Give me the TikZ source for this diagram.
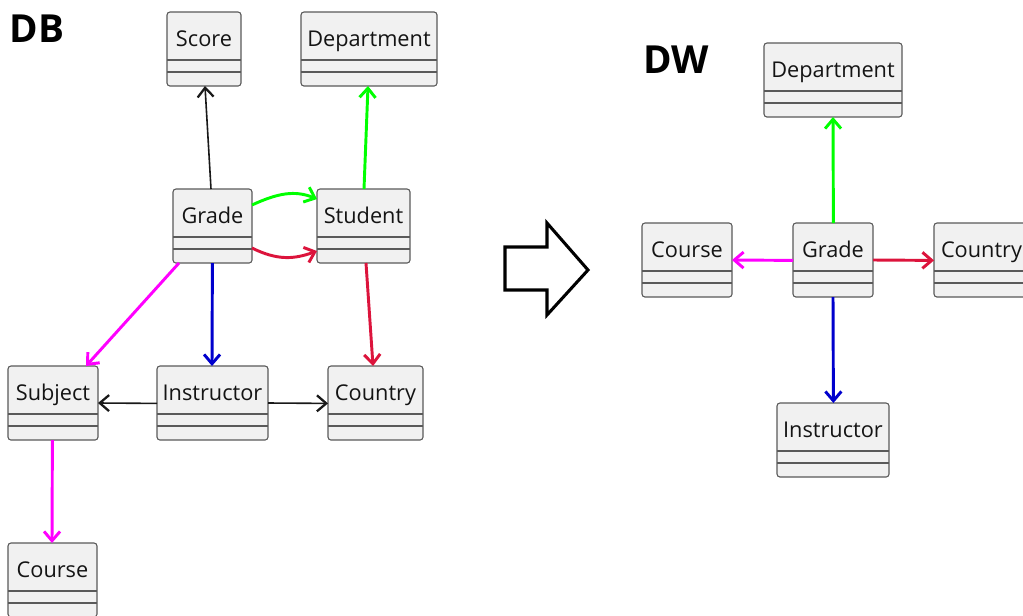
\documentclass[tikz,border=0pt]{standalone}
\usepackage{fontspec}
\setmainfont{Open Sans}
\usetikzlibrary{arrows.meta}
\definecolor{boxfill}{HTML}{F1F1F1}
\definecolor{boxline}{HTML}{5A5A5A}
\definecolor{cgreen}{HTML}{00FF00}
\definecolor{cred}{HTML}{DC143C}
\definecolor{cmag}{HTML}{FF00FF}
\definecolor{cblue}{HTML}{0000CD}
\tikzset{
  ubox/.style={draw=boxline, fill=boxfill, line width=0.8pt, rounded corners=2.2pt,
    minimum height=55.5pt, inner sep=0pt, outer sep=0pt},
  utext/.style={font=\fontsize{16.3}{19}\selectfont, inner sep=0pt, text=black!92, anchor=base},
  usep/.style={draw=boxline, line width=0.8pt},
  blk/.style={-{Straight Barb[length=7pt, width=12pt, line width=1.7pt]}, line width=1.2pt, draw=black!90},
  col/.style={-{Straight Barb[length=7pt, width=12pt]}, line width=2.2pt},
  ttl/.style={font=\bfseries\fontsize{29}{32}\selectfont, inner sep=0pt},
  bigarrow/.style={draw=black, line width=2.3pt, fill=white, line join=miter}
}
\newcommand\ubox[5]{%
  \node[ubox, minimum width=#4*0.75pt, anchor=north west] (#1) at (#2,#3) {};
  \node[utext] (#1-t) at ([yshift=-34*0.75pt]#1.north) {#5};
  \draw[usep] ([yshift=-48*0.75pt]#1.north west) -- ([yshift=-48*0.75pt]#1.north east);
  \draw[usep] ([yshift=-60*0.75pt]#1.north west) -- ([yshift=-60*0.75pt]#1.north east);
}
\begin{document}
\begin{tikzpicture}[x=0.75pt, y=-0.75pt]
\clip (0,0) rectangle (1023,615);
\fill[white] (0,0) rectangle (1023,615);
% titles
\node[ttl] (db) at (37,29) {DB};
\node[ttl] (dw) at (676,60) {DW};
% DB boxes
\ubox{score}{167}{12}{74}{Score}
\ubox{dept}{301}{12}{136}{Department}
\ubox{grade}{173}{189}{79}{Grade}
\ubox{student}{317}{189}{93}{Student}
\ubox{subject}{8}{366}{90}{Subject}
\ubox{instr}{157}{366}{111}{Instructor}
\ubox{country}{328}{366}{95}{Country}
\ubox{course}{8}{543}{89}{Course}
% DW boxes
\ubox{wdept}{764}{43}{138}{Department}
\ubox{wcourse}{642}{223}{90}{Course}
\ubox{wgrade}{793}{223}{80}{Grade}
\ubox{wcountry}{934}{223}{95}{Country}
\ubox{winstr}{777}{403}{112}{Instructor}
% DB connectors
\draw[blk] (grade.north -| 211,0) -- (score.south -| 205,0);
\draw[col, cgreen] (grade.north east |- 0,205) .. controls (278,193) and (295,190) .. (student.north west |- 0,199);
\draw[col, cred] (grade.north east |- 0,248) .. controls (278,261) and (295,259) .. (student.north west |- 0,251);
\draw[col, cgreen] (student.north -| 364,0) -- (dept.south -| 368,0);
\draw[col, cred] (student.south -| 366,0) -- (country.north -| 373,0);
\draw[col, cmag] (grade.south -| 179,0) -- (subject.north -| 86,0);
\draw[col, cblue] (grade.south -| 212.4,0) -- (instr.north -| 212,0);
\draw[blk] (instr.north west |- 0,403.4) -- (subject.north east |- 0,403);
\draw[blk] (instr.north east |- 0,403) -- (country.north west |- 0,403.4);
\draw[col, cmag] (subject.south -| 52.4,0) -- (course.north -| 52,0);
% DW connectors
\draw[col, cgreen] (wgrade.north -| 833.4,0) -- (wdept.south -| 833,0);
\draw[col, cmag] (wgrade.north west |- 0,260.4) -- (wcourse.north east |- 0,260);
\draw[col, cred] (wgrade.north east |- 0,260) -- (wcountry.north west |- 0,260.4);
\draw[col, cblue] (wgrade.south -| 833,0) -- (winstr.north -| 833.4,0);
% big arrow
\draw[bigarrow] (505,247) -- (547,247) -- (547,223) -- (588,270) -- (547,315) -- (547,290) -- (505,290) -- cycle;
\end{tikzpicture}
\end{document}
